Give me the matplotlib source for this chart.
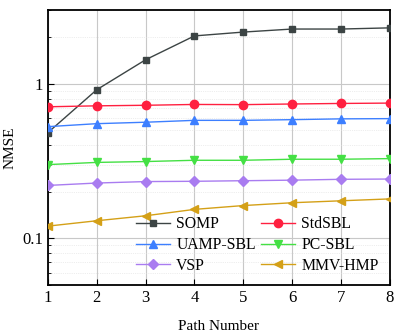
import numpy as np
import matplotlib.pyplot as plt
from matplotlib.ticker import LogLocator, NullFormatter, FixedLocator, FixedFormatter

plt.rcParams['font.family'] = ['Liberation Serif', 'DejaVu Serif']

# data
paths = [1, 2, 3, 4, 5, 6, 7, 8]
somp = [0.483, 0.915, 1.43, 2.04, 2.16, 2.26, 2.26, 2.30]
stdsbl = [0.71, 0.72, 0.726, 0.735, 0.733, 0.74, 0.746, 0.75]
uamp = [0.528, 0.552, 0.564, 0.58, 0.58, 0.586, 0.593, 0.595]
pcsbl = [0.30, 0.31, 0.314, 0.32, 0.32, 0.325, 0.325, 0.328]
vsp = [0.22, 0.228, 0.233, 0.234, 0.236, 0.238, 0.241, 0.242]
mmvhmp = [0.12, 0.13, 0.14, 0.154, 0.163, 0.17, 0.175, 0.18]

fig = plt.figure(figsize=(3.99, 3.34), dpi=100)
ax = fig.add_axes([0.12, 0.147, 0.857, 0.823])

ms = 5
h1, = ax.plot(paths, somp, '-s', color='#3c4444', ms=ms, lw=1, label='SOMP', zorder=3)
h2, = ax.plot(paths, stdsbl, '-o', color='#ff2040', ms=ms + 1, lw=1, label='StdSBL', zorder=3)
h3, = ax.plot(paths, uamp, '-^', color='#3d7fff', ms=ms + 1, lw=1, label='UAMP-SBL', zorder=3)
h4, = ax.plot(paths, pcsbl, '-v', color='#44e044', ms=ms + 1, lw=1, label='PC-SBL', zorder=3)
h5, = ax.plot(paths, vsp, '-D', color='#a97cf0', ms=ms, lw=1, label='VSP', zorder=3)
h6, = ax.plot(paths, mmvhmp, '-<', color='#d4a017', ms=ms + 1, lw=1, label='MMV-HMP', zorder=3)

ax.set_yscale('log')
ax.set_xlim(1, 8)
ax.set_ylim(0.05, 3)
ax.set_xticks(paths)
ax.yaxis.set_major_locator(FixedLocator([0.1, 1]))
ax.yaxis.set_major_formatter(FixedFormatter(['0.1', '1']))
ax.yaxis.set_minor_locator(LogLocator(base=10, subs=np.arange(2, 10)))
ax.yaxis.set_minor_formatter(NullFormatter())

ax.grid(True, which='major', color='#c8c8c8', lw=0.8)
ax.grid(True, which='minor', axis='y', color='#dddddd', lw=0.5, ls=':')
ax.tick_params(which='both', direction='in', labelsize=12)
ax.tick_params(which='major', length=4)
ax.tick_params(which='minor', length=2.5)
for s in ax.spines.values():
    s.set_linewidth(1.3)

ax.set_xlabel('Path Number', fontsize=11, labelpad=10)
ax.set_ylabel('NMSE', fontsize=11, labelpad=4)

# row-major legend order like the reference
handles = [h1, h3, h5, h2, h4, h6]
ax.legend(handles=handles, ncol=2, frameon=False, fontsize=11.3, loc='lower right',
          bbox_to_anchor=(1.0, 0.0), handlelength=2.2, handletextpad=0.4,
          columnspacing=0.3, labelspacing=0.3, borderaxespad=0.3)

plt.savefig('out.png', dpi=100)
